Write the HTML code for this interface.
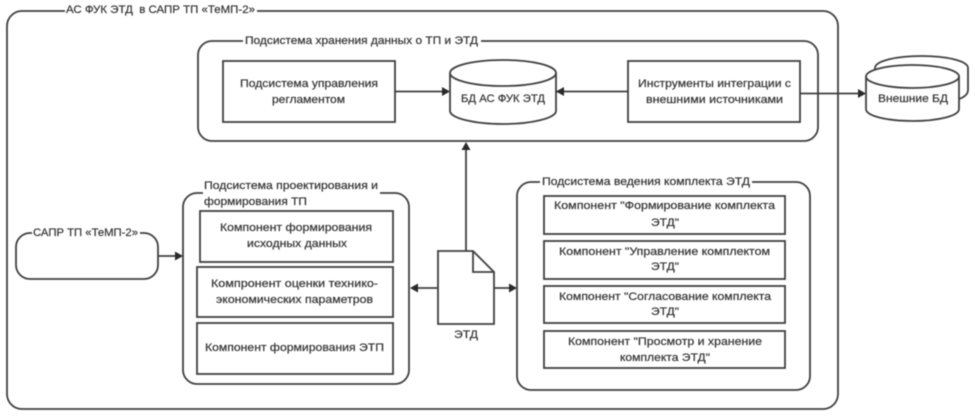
<!DOCTYPE html>
<html lang="ru">
<head>
<meta charset="utf-8">
<title>АС ФУК ЭТД</title>
<style>
html,body{margin:0;padding:0;background:#fff;width:975px;height:418px;overflow:hidden}
svg{display:block;filter:blur(.5px)}
text{font-family:"Liberation Sans",sans-serif;font-size:11px;fill:#333;stroke:#333;stroke-width:.2;dominant-baseline:central}
.s{fill:none;stroke:#404040;stroke-width:1.8}
.w{fill:#fff;stroke:#404040;stroke-width:1.8}
.a{fill:#2a2a2a}
.g{fill:#fff;stroke:none}
</style>
</head>
<body>
<svg width="975" height="418" viewBox="0 0 975 418" xmlns="http://www.w3.org/2000/svg">
<!-- containers -->
<rect class="s" x="7" y="11" width="831" height="398" rx="15"/>
<rect class="s" x="198" y="41" width="620" height="100" rx="14"/>
<rect class="s" x="183" y="193" width="226" height="191" rx="14"/>
<rect class="s" x="517" y="182" width="293" height="208" rx="14"/>
<rect class="s" x="16" y="233" width="142" height="46" rx="14"/>

<!-- title gaps -->
<rect class="g" x="65" y="5" width="192" height="12"/>
<rect class="g" x="243" y="35" width="238" height="12"/>
<rect class="g" x="203" y="188" width="177" height="22"/>
<rect class="g" x="540" y="176" width="212" height="12"/>
<rect class="g" x="32" y="227" width="108" height="12"/>

<!-- connectors -->
<path class="s" d="M395 91.500H442M556 91.500H628M800 93.500H858M158 256H176M466 251V150M438 288H418M494 288H509"/>
<path class="a" d="M450 91.500l-8-4.500v9zM556 91.500l8-4.500v9zM866 93.500l-8-4.500v9zM183 256l-8-4.500v9zM466 142l-4.500 8h9zM410 288l8-4.500v9zM517 288l-8-4.500v9z"/>

<!-- storage row -->
<rect class="w" x="223" y="61" width="172" height="61"/>
<rect class="w" x="628" y="61" width="172" height="61"/>
<path class="w" d="M450 73V111C450 118 474 124 503 124S556 118 556 111V73"/>
<ellipse class="w" cx="503" cy="73" rx="53" ry="13"/>

<!-- external DB -->
<path class="w" d="M875 68C875 61 896 56 921.500 56S968 61 968 68V90C968 96 960 100 950 101H875Z"/>
<path class="w" d="M866 76V109C866 116 887 121 912.500 121S959 116 959 109V76"/>
<ellipse class="w" cx="912.500" cy="76.500" rx="46.500" ry="11.500"/>

<!-- design boxes -->
<rect class="w" x="200" y="211" width="193" height="51"/>
<rect class="w" x="197" y="267" width="196" height="50"/>
<rect class="w" x="197" y="323" width="196" height="51"/>

<!-- maintenance boxes -->
<rect class="w" x="544" y="196" width="241" height="38"/>
<rect class="w" x="544" y="241" width="241" height="38"/>
<rect class="w" x="544" y="286" width="241" height="37"/>
<rect class="w" x="544" y="331" width="241" height="37"/>

<!-- document -->
<path class="w" d="M438 251H473L494 272V324H438Z"/>
<path class="s" d="M473 251V272H494"/>

<!-- labels -->
<text x="66" y="10" textLength="189" lengthAdjust="spacingAndGlyphs" xml:space="preserve">АС ФУК ЭТД  в САПР ТП «ТеМП-2»</text>
<text x="245" y="41" textLength="233" lengthAdjust="spacingAndGlyphs">Подсистема хранения данных о ТП и ЭТД</text>
<text x="240" y="84" textLength="138" lengthAdjust="spacingAndGlyphs">Подсистема управления</text>
<text x="272" y="100" textLength="73" lengthAdjust="spacingAndGlyphs">регламентом</text>
<text x="461" y="99" textLength="84" lengthAdjust="spacingAndGlyphs">БД АС ФУК ЭТД</text>
<text x="638" y="84" textLength="153" lengthAdjust="spacingAndGlyphs">Инструменты интеграции с</text>
<text x="646" y="100" textLength="137" lengthAdjust="spacingAndGlyphs">внешними источниками</text>
<text x="878" y="99" textLength="70" lengthAdjust="spacingAndGlyphs">Внешние БД</text>
<text x="204" y="186" textLength="174" lengthAdjust="spacingAndGlyphs">Подсистема проектирования и</text>
<text x="204" y="202" textLength="103" lengthAdjust="spacingAndGlyphs">формирования ТП</text>
<text x="220" y="228" textLength="152" lengthAdjust="spacingAndGlyphs">Компонент формирования</text>
<text x="247" y="244" textLength="100" lengthAdjust="spacingAndGlyphs">исходных данных</text>
<text x="211" y="284" textLength="167" lengthAdjust="spacingAndGlyphs">Компронент оценки технико-</text>
<text x="216" y="300" textLength="157" lengthAdjust="spacingAndGlyphs">экономических параметров</text>
<text x="205" y="348" textLength="179" lengthAdjust="spacingAndGlyphs">Компонент формирования ЭТП</text>
<text x="33" y="233" textLength="105" lengthAdjust="spacingAndGlyphs">САПР ТП «ТеМП-2»</text>
<text x="542" y="182" textLength="208" lengthAdjust="spacingAndGlyphs">Подсистема ведения комплекта ЭТД</text>
<text x="554" y="206" textLength="221" lengthAdjust="spacingAndGlyphs">Компонент "Формирование комплекта</text>
<text x="651" y="223" textLength="28" lengthAdjust="spacingAndGlyphs">ЭТД"</text>
<text x="559" y="252" textLength="211" lengthAdjust="spacingAndGlyphs">Компонент "Управление комплектом</text>
<text x="651" y="267" textLength="28" lengthAdjust="spacingAndGlyphs">ЭТД"</text>
<text x="559" y="297" textLength="212" lengthAdjust="spacingAndGlyphs">Компонент "Согласование комплекта</text>
<text x="651" y="312" textLength="28" lengthAdjust="spacingAndGlyphs">ЭТД"</text>
<text x="568" y="342" textLength="194" lengthAdjust="spacingAndGlyphs">Компонент "Просмотр и хранение</text>
<text x="620" y="358" textLength="90" lengthAdjust="spacingAndGlyphs">комплекта ЭТД"</text>
<text x="454" y="335" textLength="24" lengthAdjust="spacingAndGlyphs">ЭТД</text>
</svg>
</body>
</html>
